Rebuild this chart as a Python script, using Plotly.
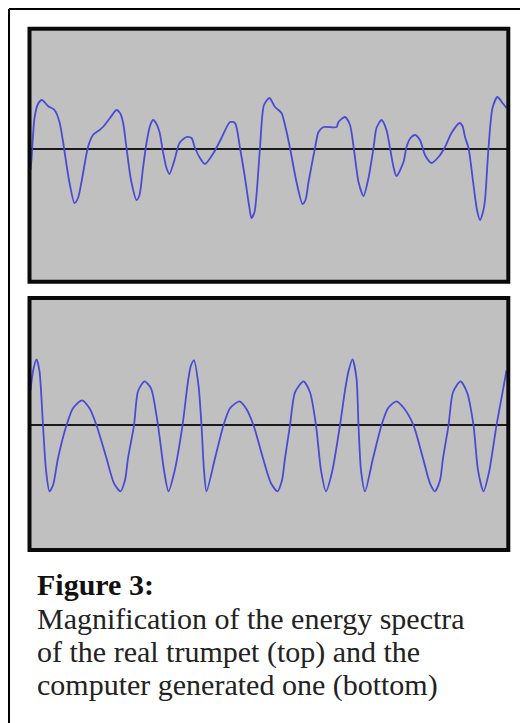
import plotly.graph_objects as go

# ---- data (time position, amplitude) ----
real_t = [1, 2, 5, 8.5, 12.5, 18.5, 25, 30, 34.5, 39.5, 45, 48.5, 52, 58.5, 63.5, 70, 73.5, 80.5, 87, 90.5,
          93.5, 97, 101.5, 107, 110, 113.5, 117, 120.5, 123.5, 126.5, 130, 133.5, 137, 140, 145, 150, 157, 162,
          165.5, 170.5, 175.5, 184, 192, 200.5, 205.5, 210.5, 215.5, 219.5, 222, 225, 227, 230.5, 234.5, 240,
          245.5, 252, 255.5, 260.5, 267, 273, 276, 279, 285.5, 289, 294, 307, 309, 315.5, 320.5, 324.5, 329,
          334, 339, 344, 347, 352, 357, 360.5, 364, 367, 374, 377, 381, 385.5, 390.5, 395.5, 402, 409, 415.5,
          422, 430, 433, 435.5, 439, 444, 447.5, 450.5, 453.5, 455.5, 459, 463, 468, 473, 477]
real_amp = [-21, -11, 31, 45, 49, 43, 39, 27, 1, -31, -54, -49, -33, 2, 14, 19, 22, 31, 39, 36,
            27, 1, -31, -51, -46, -19, 6, 23, 29, 26, 17, -3, -19, -25, -11, 6, 12, 11,
            1, -9, -15, -4, 11, 27, 26, 1, -29, -56, -69, -63, -46, 1, 44, 51,
            42, 36, 24, 1, -33, -55, -51, -33, 1, 17, 22, 22, 27, 32, 24, -1, -33,
            -47, -29, 1, 21, 29, 19, 1, -18, -27, -13, 2, 11, 14, 9, -6, -14, -8, 2,
            16, 26, 23, 12, 1, -36, -61, -71, -63, -51, 1, 41, 52, 46, 41]

synth_t = [1, 3.5, 7, 10, 13.5, 16.5, 20, 23.5, 28.5, 37, 43.5, 52.5, 60, 67, 77, 84.5, 91, 95.5, 98.5, 104.5,
           108.5, 115, 121.5, 128.5, 134.5, 139, 145, 153, 158.5, 161.5, 164.5, 169, 172, 174.5, 177, 185.5, 194,
           200.5, 210, 216.5, 224, 233.5, 241.5, 248, 252.5, 255.5, 260.5, 265.5, 274, 280.5, 286.5, 291.5, 296.5,
           302.5, 310.5, 315.5, 319, 323, 327, 329, 331.5, 335.5, 343.5, 352, 358.5, 367, 374.5, 384, 393.5,
           400.5, 405.5, 410.5, 413.5, 419, 423.5, 431, 437.5, 444, 448.5, 454, 459.5, 467, 472.5, 477]
synth_amp = [35, 54, 66, 54, 0, -45, -66, -60, -33, 0, 17, 25, 17, 0, -33, -58, -66, -55, -33, 0,
             34, 44, 37, 0, -45, -66, -46, 0, 44, 60, 65, 40, 0, -45, -66, -33, 0,
             17, 24, 17, 0, -33, -58, -66, -55, -33, 0, 33, 44, 33, 0, -45, -66,
             -47, 0, 35, 54, 66, 47, 0, -45, -66, -33, 0, 17, 24, 17, 0, -33,
             -58, -66, -55, -33, 0, 33, 44, 33, 0, -45, -66, -47, 0, 30, 55]

caption_title = "Figure 3:"
caption_lines = ["Magnification of the energy spectra",
                 "of the real trumpet (top) and the",
                 "computer generated one (bottom)"]

# the page body adds an 8px margin, so the figure is drawn 8px in from the window edge
OFF = 8
W, H = 528 - OFF, 723 - OFF
WAVE = "#4a4ad4"
GRAY = "#c0c0c0"

def px(x):
    return (x - OFF) / W

def py(y):
    return 1 - (y - OFF) / H

# panel geometry (window pixels)
L, R = 29.5, 508.3
top_box = (28.7, 281.7, 149.0)
bot_box = (298.0, 550.0, 425.3)

fig = go.Figure()
fig.add_trace(go.Scatter(x=real_t, y=real_amp, mode="lines",
                         line=dict(color=WAVE, width=1.8, shape="spline", smoothing=0.7),
                         xaxis="x", yaxis="y", hoverinfo="skip", showlegend=False))
fig.add_trace(go.Scatter(x=synth_t, y=synth_amp, mode="lines",
                         line=dict(color=WAVE, width=1.8, shape="spline", smoothing=0.7),
                         xaxis="x2", yaxis="y2", hoverinfo="skip", showlegend=False))

span = R - L
def yaxis_cfg(box, anchor):
    t, b, c = box
    return dict(domain=[py(b), py(t)], range=[-(b - c), c - t], anchor=anchor,
                showgrid=False, showticklabels=False, ticks="", zeroline=True,
                zerolinecolor="#1a1a1a", zerolinewidth=2, fixedrange=True)

def xaxis_cfg(anchor):
    return dict(domain=[px(L), px(R)], range=[0, span], anchor=anchor,
                showgrid=False, showticklabels=False, ticks="", zeroline=False, fixedrange=True)

shapes = []
for (t, b, c) in [top_box, bot_box]:
    shapes.append(dict(type="rect", xref="paper", yref="paper",
                       x0=px(L), x1=px(R), y0=py(b), y1=py(t),
                       line=dict(color="#0a0a0a", width=4), fillcolor="rgba(0,0,0,0)"))
# outer frame (left and top edges visible)
shapes.append(dict(type="line", xref="paper", yref="paper", x0=px(9), x1=px(9), y0=py(9), y1=py(760),
                   line=dict(color="#000", width=2)))
shapes.append(dict(type="line", xref="paper", yref="paper", x0=px(9), x1=px(560), y0=py(9), y1=py(9),
                   line=dict(color="#000", width=2)))

FONT = "Liberation Serif, Times New Roman, serif"
FS = 30
annotations = [dict(text="<b>" + caption_title + "</b>", xref="paper", yref="paper",
                    x=px(35), y=py(584), xanchor="left", yanchor="middle", showarrow=False,
                    font=dict(family=FONT, size=FS, color="#111"))]
for i, line in enumerate(caption_lines):
    annotations.append(dict(text=line, xref="paper", yref="paper",
                            x=px(35), y=py(618 + 33.6 * i), xanchor="left", yanchor="middle",
                            showarrow=False, font=dict(family=FONT, size=FS, color="#222")))

fig.update_layout(
    width=W, height=H, margin=dict(l=0, r=0, t=0, b=0),
    paper_bgcolor="white", plot_bgcolor=GRAY,
    xaxis=xaxis_cfg("y"), yaxis=yaxis_cfg(top_box, "x"),
    xaxis2=xaxis_cfg("y2"), yaxis2=yaxis_cfg(bot_box, "x2"),
    shapes=shapes, annotations=annotations, showlegend=False,
)

fig.write_html("out.html", config={"displayModeBar": False})
